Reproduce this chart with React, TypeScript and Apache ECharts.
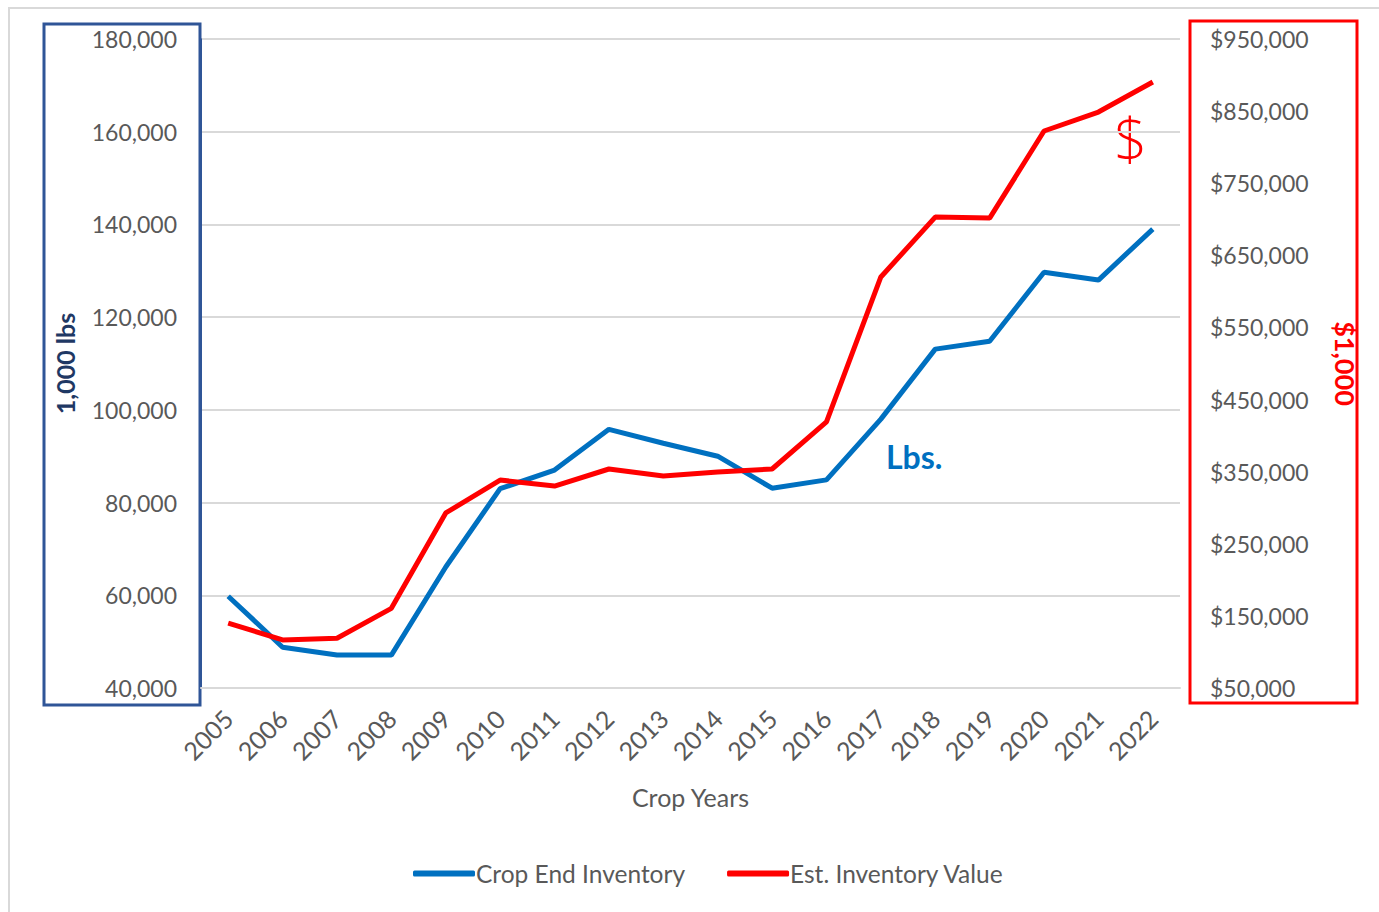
import React, { useEffect, useRef } from "react";
import * as echarts from "echarts";

const years = ["2005","2006","2007","2008","2009","2010","2011","2012","2013","2014","2015","2016","2017","2018","2019","2020","2021","2022"];
const cropEndInventory = [59800, 48800, 47100, 47100, 66100, 83000, 87000, 95800, 92800, 90000, 83100, 84900, 98000, 113100, 114800, 129700, 128000, 139000];
const estInventoryValue = [140000, 116600, 119000, 160500, 292700, 338400, 330100, 353700, 344000, 349500, 353700, 418900, 620000, 703000, 701700, 822400, 848700, 890300];

const FONT = "Lato, 'Noto Sans', sans-serif";
const GREY = "#595959";

export default function App() {
  const ref = useRef<HTMLDivElement>(null);
  useEffect(() => {
    if (!ref.current) return;
    const chart = echarts.init(ref.current, null, { renderer: "svg" });
    chart.setOption({
      animation: false,
      backgroundColor: "#ffffff",
      textStyle: { fontFamily: FONT },
      grid: { left: 201, right: 199, top: 39, bottom: 224 },
      legend: {
        left: 408,
        top: 856,
        icon: "roundRect",
        itemWidth: 62,
        itemHeight: 6,
        itemGap: 42,
        textStyle: { color: GREY, fontSize: 24.5, fontFamily: FONT, padding: [0, 0, 0, -4] },
        data: ["Crop End Inventory", "Est. Inventory Value"],
      },
      xAxis: {
        type: "category",
        data: years,
        boundaryGap: true,
        axisLine: { show: true, lineStyle: { color: "#D9D9D9", width: 2 } },
        axisTick: { show: false },
        axisLabel: { rotate: 45, color: GREY, fontSize: 25, fontFamily: FONT, margin: 26 },
        name: "Crop Years",
        nameLocation: "middle",
        nameGap: 96,
        nameTextStyle: { color: GREY, fontSize: 25, fontFamily: FONT },
      },
      yAxis: [
        {
          type: "value",
          min: 40000,
          max: 180000,
          interval: 20000,
          position: "left",
          axisLine: { show: true, lineStyle: { color: "#2F5597", width: 2 } },
          axisTick: { show: false },
          splitLine: { show: true, lineStyle: { color: "#D9D9D9", width: 2 } },
          axisLabel: {
            color: GREY,
            fontSize: 23,
            fontFamily: FONT,
            margin: 24,
            formatter: (v: number) => v.toLocaleString("en-US"),
          },
          name: "1,000 lbs",
          nameLocation: "middle",
          nameRotate: 90,
          nameGap: 124,
          nameTextStyle: { color: "#1F3864", fontSize: 25, fontWeight: "bold", fontFamily: FONT },
        },
        {
          type: "value",
          min: 50000,
          max: 950000,
          interval: 100000,
          position: "right",
          axisLine: { show: false },
          axisTick: { show: false },
          splitLine: { show: false },
          axisLabel: {
            color: GREY,
            fontSize: 23,
            fontFamily: FONT,
            margin: 30,
            formatter: (v: number) => "$" + v.toLocaleString("en-US"),
          },
          name: "$1,000",
          nameLocation: "middle",
          nameRotate: -90,
          nameGap: 152,
          nameTextStyle: { color: "#FF0000", fontSize: 27, fontWeight: "bold", fontFamily: FONT },
        },
      ],
      series: [
        {
          name: "Crop End Inventory",
          type: "line",
          yAxisIndex: 0,
          data: cropEndInventory,
          symbol: "none",
          lineStyle: { color: "#0070C0", width: 5 },
          itemStyle: { color: "#0070C0" },
          z: 3,
        },
        {
          name: "Est. Inventory Value",
          type: "line",
          yAxisIndex: 1,
          data: estInventoryValue,
          symbol: "none",
          lineStyle: { color: "#FF0000", width: 5 },
          itemStyle: { color: "#FF0000" },
          z: 4,
        },
      ],
      graphic: [
        {
          type: "rect",
          shape: { x: 9, y: 8, width: 1400, height: 1000 },
          style: { fill: "none", stroke: "#D9D9D9", lineWidth: 2 },
          silent: true,
          z: -10,
        },
        {
          type: "rect",
          shape: { x: 44, y: 24, width: 156, height: 681 },
          style: { fill: "none", stroke: "#2F5597", lineWidth: 3 },
          silent: true,
        },
        {
          type: "rect",
          shape: { x: 1190, y: 21, width: 167, height: 682 },
          style: { fill: "none", stroke: "#FF0000", lineWidth: 3 },
          silent: true,
        },
        {
          type: "text",
          x: 886,
          y: 440,
          style: { text: "Lbs.", fill: "#0070C0", font: "bold 32px " + FONT },
        },
        {
          type: "text",
          x: 1114,
          y: 108,
          style: { text: "$", fill: "#FF0000", font: "300 58px 'Open Sans', sans-serif" },
        },
      ],
    });
    return () => chart.dispose();
  }, []);
  return (
    <div
      ref={ref}
      style={{ position: "fixed", left: 0, top: 0, width: 1379, height: 912 }}
    />
  );
}
